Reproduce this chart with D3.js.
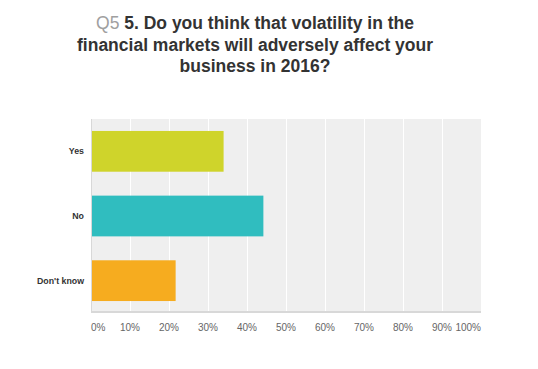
<!DOCTYPE html>
<html>
<head>
<meta charset="utf-8">
<script src="https://cdn.jsdelivr.net/npm/d3@7"></script>
<style>
  body { margin: 0; background: #fff; }
  svg { display: block; font-family: "Liberation Sans", Arial, sans-serif; }
</style>
</head>
<body>
<svg id="chart" width="538" height="369"></svg>
<script>
// Data
var categories = ['Yes', 'No', "Don't know"];
var values = [0.34, 0.442, 0.217];
var barColors = ['#cfd42b', '#30bdbf', '#f6ac1f'];
var ticks = [0, 0.1, 0.2, 0.3, 0.4, 0.5, 0.6, 0.7, 0.8, 0.9, 1];
var titleLines = [
  ['Q5 ', '5. Do you think that volatility in the'],
  [null, 'financial markets will adversely affect your'],
  [null, 'business in 2016?']
];

var svg = d3.select('#chart');
var margin = { top: 119, right: 57, bottom: 56, left: 91 };
var width = 538 - margin.left - margin.right;
var height = 369 - margin.top - margin.bottom;

// Title
var title = svg.append('text')
  .attr('text-anchor', 'middle')
  .attr('font-size', 17.5)
  .attr('font-weight', 'bold')
  .attr('fill', '#333');
titleLines.forEach(function (line, i) {
  var t = title.append('tspan')
    .attr('x', 255)
    .attr('y', 29 + i * 21.5);
  if (line[0]) {
    t.append('tspan').attr('fill', '#a0a0a0').attr('font-weight', 'normal').text(line[0]);
    title.append('tspan').text(line[1]);
  } else {
    t.text(line[1]);
  }
});

var g = svg.append('g')
  .attr('transform', 'translate(' + margin.left + ',' + margin.top + ')');

var x = d3.scaleLinear().domain([0, 1]).range([0, width]);
var y = d3.scaleBand().domain(categories).range([0, height]).paddingInner(0.37).paddingOuter(0.185);

// Plot background
g.append('rect')
  .attr('width', width)
  .attr('height', height)
  .attr('fill', '#efefef');

// Grid lines
g.selectAll('.grid')
  .data(ticks.slice(1, -1))
  .enter()
  .append('line')
  .attr('class', 'grid')
  .attr('x1', function (d) { return Math.round(x(d)) + 0.5; })
  .attr('x2', function (d) { return Math.round(x(d)) + 0.5; })
  .attr('y1', 0)
  .attr('y2', height)
  .attr('stroke', '#fff')
  .attr('stroke-width', 1);

// Bars
g.selectAll('.bar')
  .data(categories)
  .enter()
  .append('rect')
  .attr('class', 'bar')
  .attr('x', 0)
  .attr('y', function (d) { return y(d); })
  .attr('width', function (d, i) { return x(values[i]); })
  .attr('height', y.bandwidth())
  .attr('fill', function (d, i) { return barColors[i]; });

// Axis lines
g.append('line')
  .attr('x1', 0.5).attr('x2', 0.5)
  .attr('y1', 0).attr('y2', height)
  .attr('stroke', '#d8d8d8');
g.append('line')
  .attr('x1', 0).attr('x2', width)
  .attr('y1', height - 1).attr('y2', height - 1)
  .attr('stroke', '#d8d8d8')
  .attr('stroke-width', 2);

// Category labels
g.selectAll('.label')
  .data(categories)
  .enter()
  .append('text')
  .attr('class', 'label')
  .attr('x', -7)
  .attr('y', function (d) { return y(d) + y.bandwidth() / 2; })
  .attr('dy', '0.35em')
  .attr('text-anchor', 'end')
  .attr('font-size', 8.8)
  .attr('font-weight', 'bold')
  .attr('fill', '#333')
  .text(function (d) { return d; });

// Tick labels
g.selectAll('.tick-label')
  .data(ticks)
  .enter()
  .append('text')
  .attr('class', 'tick-label')
  .attr('x', function (d, i) {
    if (i === 0) return 0;
    if (i === ticks.length - 1) return width;
    return x(d);
  })
  .attr('y', height + 18)
  .attr('text-anchor', function (d, i) {
    if (i === 0) return 'start';
    if (i === ticks.length - 1) return 'end';
    return 'middle';
  })
  .attr('font-size', 10)
  .attr('fill', '#666')
  .text(function (d) { return d3.format('.0%')(d); });
</script>
</body>
</html>
